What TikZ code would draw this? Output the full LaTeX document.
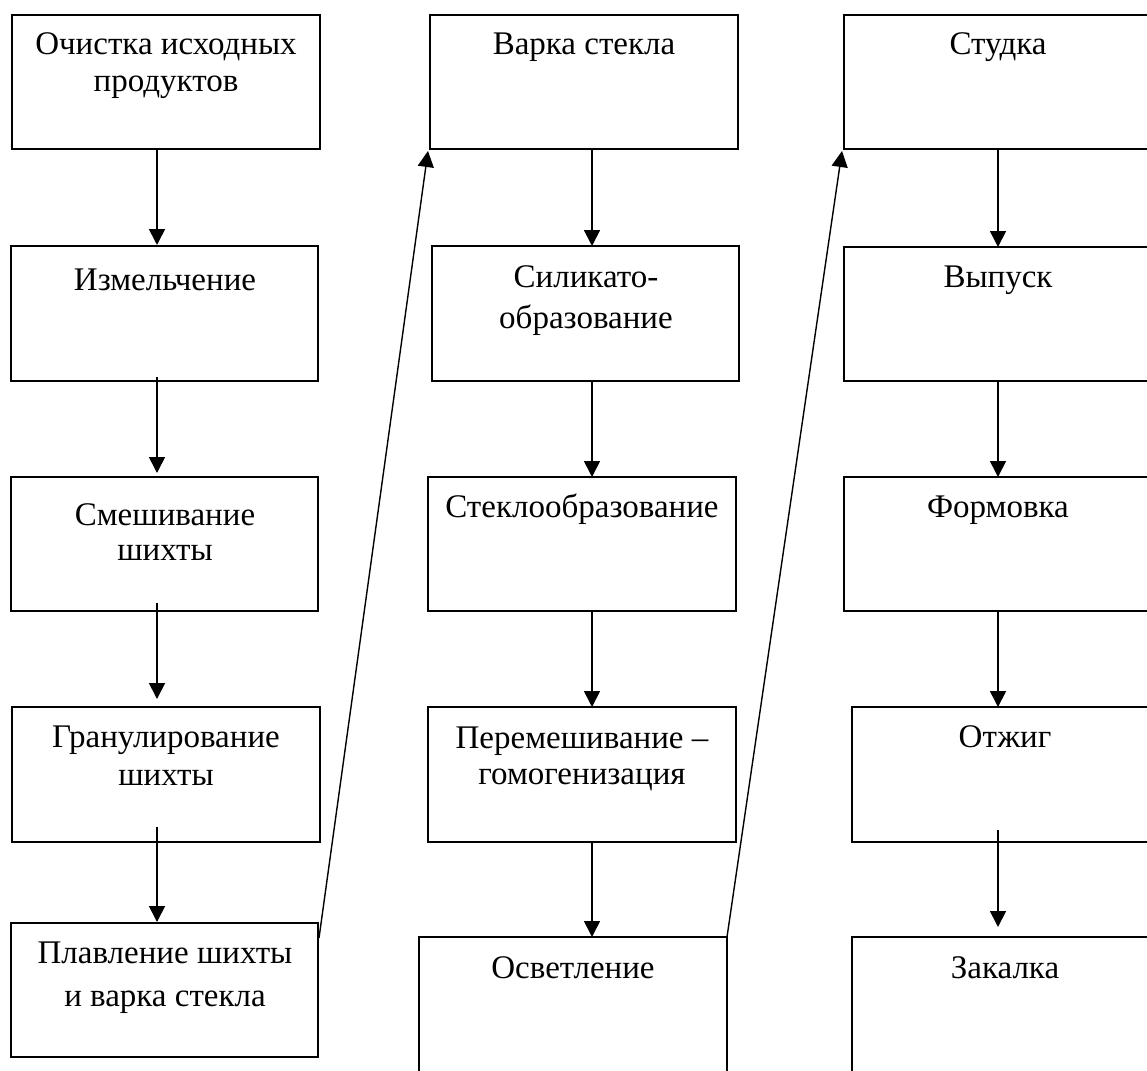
\documentclass[tikz,border=0pt]{standalone}
\usepackage{fontspec}
\setmainfont{Liberation Serif}
\usetikzlibrary{arrows.meta,calc}
\begin{document}
\begin{tikzpicture}[x=1pt,y=-1pt,
  box/.style={draw,line width=2pt,rectangle,inner sep=0pt,outer sep=0pt,anchor=north west,minimum height=134pt},
  txt/.style={anchor=base,inner sep=0pt,font=\fontsize{33}{37}\selectfont},
  arr/.style={line width=1.7pt,-{Triangle[width=16pt,length=16pt]}},
  darr/.style={line width=1.4pt,-{Triangle[width=16pt,length=16pt]}}
]
\useasboundingbox (0,0) rectangle (1147,1070);
% column 1
\node[box,minimum width=308pt] (b11) at (12,15) {};
\node[box,minimum width=307pt,minimum height=135pt] (b12) at (11,246) {};
\node[box,minimum width=307pt] (b13) at (11,477) {};
\node[box,minimum width=308pt,minimum height=135pt] (b14) at (12,707) {};
\node[box,minimum width=307pt] (b15) at (11,923) {};
% column 2
\node[box,minimum width=308pt] (b21) at (430,15) {};
\node[box,minimum width=307pt,minimum height=135pt] (b22) at (432,246) {};
\node[box,minimum width=308pt] (b23) at (428,477) {};
\node[box,minimum width=308pt,minimum height=135pt] (b24) at (428,707) {};
\node[box,minimum width=308pt,minimum height=160pt] (b25) at (419,937) {};
% column 3
\node[box,minimum width=310pt] (b31) at (844,15) {};
\node[box,minimum width=310pt,minimum height=134pt] (b32) at (844,247) {};
\node[box,minimum width=310pt] (b33) at (844,477) {};
\node[box,minimum width=306pt,minimum height=135pt] (b34) at (852,707) {};
\node[box,minimum width=306pt,minimum height=160pt] (b35) at (852,937) {};
% texts
\node[txt] (t11a) at (166,55) {Очистка исходных};
\node[txt] (t11b) at (166,92) {продуктов};
\node[txt] (t12) at (165,290) {Измельчение};
\node[txt] (t13a) at (165,525) {Смешивание};
\node[txt] (t13b) at (165,560) {шихты};
\node[txt] (t14a) at (166,747) {Гранулирование};
\node[txt] (t14b) at (166,785) {шихты};
\node[txt] (t15a) at (165,963) {Плавление шихты};
\node[txt] (t15b) at (165,1006) {и варка стекла};
\node[txt] (t21) at (584,55) {Варка стекла};
\node[txt] (t22a) at (586,287) {Силикато-};
\node[txt] (t22b) at (586,328) {образование};
\node[txt] (t23) at (582,517) {Стеклообразование};
\node[txt] (t24a) at (582,748) {Перемешивание –};
\node[txt] (t24b) at (582,784) {гомогенизация};
\node[txt] (t25) at (573,978) {Осветление};
\node[txt] (t31) at (998,55) {Студка};
\node[txt] (t32) at (998,287) {Выпуск};
\node[txt] (t33) at (998,517) {Формовка};
\node[txt] (t34) at (1005,747) {Отжиг};
\node[txt] (t35) at (1005,978) {Закалка};
% arrow columns
\coordinate (c1) at (157,0);
\coordinate (c2) at (592,0);
\coordinate (c3) at (998,0);
% column 1 arrows
\draw[arr,shorten >=1pt] (b11.south -| c1) -- (b12.north -| c1);
\draw[arr,shorten <=-4pt,shorten >=4pt] (b12.south -| c1) -- (b13.north -| c1);
\draw[arr,shorten <=-8pt,shorten >=8pt] (b13.south -| c1) -- (b14.north -| c1);
\draw[arr,shorten <=-15pt,shorten >=1pt] (b14.south -| c1) -- (b15.north -| c1);
% column 2 arrows
\draw[arr] (b21.south -| c2) -- (b22.north -| c2);
\draw[arr] (b22.south -| c2) -- (b23.north -| c2);
\draw[arr] (b23.south -| c2) -- (b24.north -| c2);
\draw[arr] (b24.south -| c2) -- (b25.north -| c2);
% column 3 arrows
\draw[arr] (b31.south -| c3) -- (b32.north -| c3);
\draw[arr] (b32.south -| c3) -- (b33.north -| c3);
\draw[arr] (b33.south -| c3) -- (b34.north -| c3);
\draw[arr,shorten <=-12pt,shorten >=10pt] (b34.south -| c3) -- (b35.north -| c3);
% diagonal connectors
\draw[darr] ($(b15.north east)+(1,15)$) -- ($(b21.south west)+(-2,2)$);
\draw[darr] (b25.north east) -- ($(b31.south west)+(-2,2)$);
\end{tikzpicture}
\end{document}
